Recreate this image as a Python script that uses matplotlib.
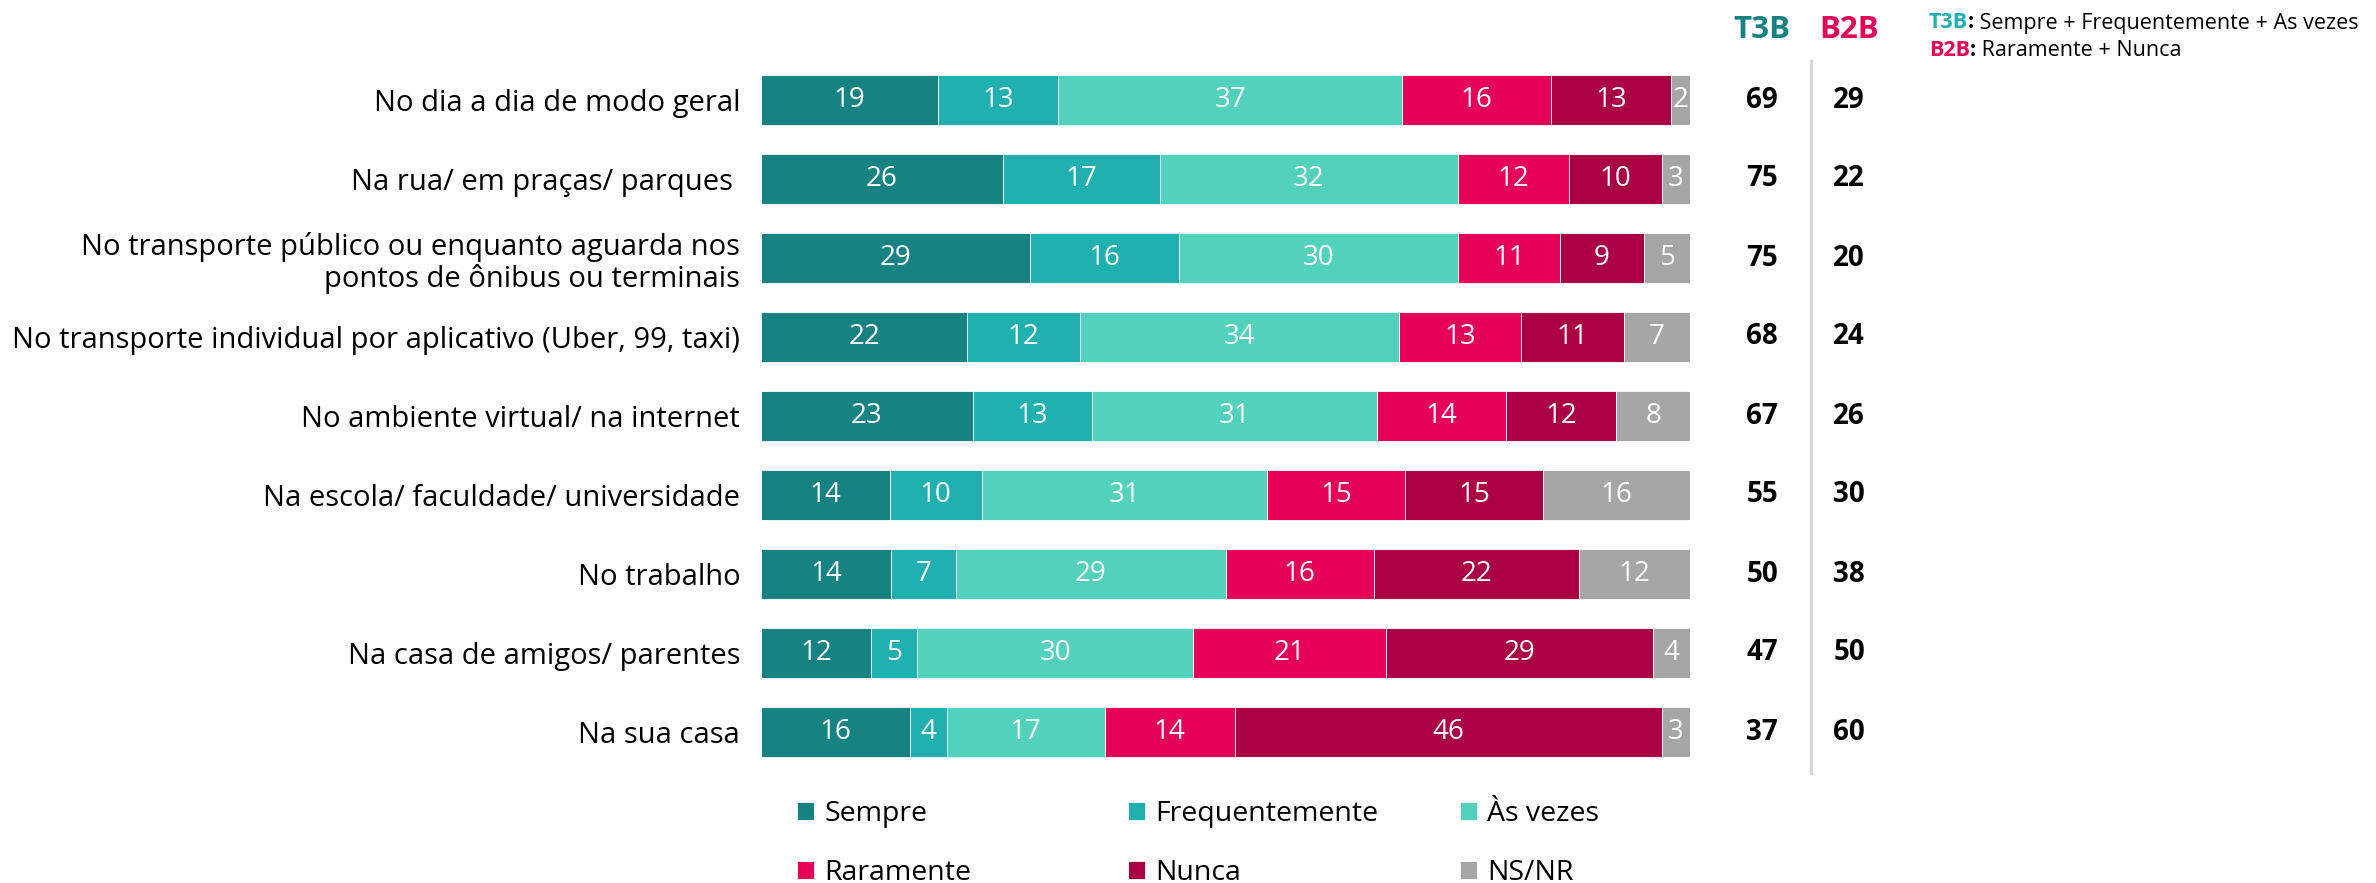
import matplotlib.pyplot as plt
import numpy as np

plt.rcParams['font.family'] = ['Open Sans', 'DejaVu Sans']

categories = [
    'No dia a dia de modo geral',
    'Na rua/ em praças/ parques ',
    'No transporte público ou enquanto aguarda nos\npontos de ônibus ou terminais',
    'No transporte individual por aplicativo (Uber, 99, taxi)',
    'No ambiente virtual/ na internet',
    'Na escola/ faculdade/ universidade',
    'No trabalho',
    'Na casa de amigos/ parentes',
    'Na sua casa',
]
series_names = ['Sempre', 'Frequentemente', 'Às vezes', 'Raramente', 'Nunca', 'NS/NR']
sempre = [19, 26, 29, 22, 23, 14, 14, 12, 16]
frequentemente = [13, 17, 16, 12, 13, 10, 7, 5, 4]
as_vezes = [37, 32, 30, 34, 31, 31, 29, 30, 17]
raramente = [16, 12, 11, 13, 14, 15, 16, 21, 14]
nunca = [13, 10, 9, 11, 12, 15, 22, 29, 46]
ns_nr = [2, 3, 5, 7, 8, 16, 12, 4, 3]
t3b = [69, 75, 75, 68, 67, 55, 50, 47, 37]
b2b = [29, 22, 20, 24, 26, 30, 38, 50, 60]

colors = ['#178282', '#20B0B0', '#52D1BC', '#E50058', '#AA0044', '#A6A6A6']
teal = '#178282'
pink = '#E50058'

W, H = 2376, 883
fig = plt.figure(figsize=(W / 100, H / 100), dpi=100)
bar_left, bar_right = 761, 1690
row0, step = 100, 79
ax = fig.add_axes([bar_left / W, 0, (bar_right - bar_left) / W, 1])
ax.set_xlim(0, 100)
ax.set_ylim((H - row0) / step, -row0 / step)

data = np.array([sempre, frequentemente, as_vezes, raramente, nunca, ns_nr], dtype=float)
shares = data / data.sum(axis=0) * 100  # 100% stacked
y = np.arange(len(categories))
left = np.zeros(len(categories))
for name, vals, share, col in zip(series_names, data, shares, colors):
    bars = ax.barh(y, share, left=left, height=50 / step, color=col,
                   edgecolor='white', linewidth=0.6, label=name)
    ax.bar_label(bars, labels=[f'{v:.0f}' for v in vals], label_type='center',
                 color='white', fontsize=20)
    left += share

ax.set_yticks(y)
ax.set_yticklabels(categories, fontsize=21, linespacing=1.12)
ax.tick_params(axis='y', length=0, pad=15)
ax.set_xticks([])
for s in ax.spines.values():
    s.set_visible(False)

def xd(px):
    return (px - bar_left) / (bar_right - bar_left) * 100

def yd(px):
    return (px - row0) / step

# T3B / B2B columns
ax.text(xd(1762), yd(30), 'T3B', color=teal, fontsize=22.5,
        fontweight='bold', ha='center', va='center', clip_on=False)
ax.text(xd(1849), yd(30), 'B2B', color=pink, fontsize=22.5,
        fontweight='bold', ha='center', va='center', clip_on=False)
for i in range(len(categories)):
    ax.text(xd(1762), i, str(t3b[i]), fontsize=20, fontweight='bold',
            ha='center', va='center', clip_on=False)
    ax.text(xd(1849), i, str(b2b[i]), fontsize=20, fontweight='bold',
            ha='center', va='center', clip_on=False)
ax.plot([xd(1811)] * 2, [yd(61), yd(773)], color='#D9D9D9', lw=2.5, clip_on=False)

# note
notes = [('T3B', '#20B0B0', ' Sempre + Frequentemente + As vezes', 23),
         ('B2B', pink, ' Raramente + Nunca', 50)]
for key, col, rest, py in notes:
    t1 = fig.text(1929 / W, 1 - py / H, key, color=col, fontsize=15.5,
                  fontweight='bold', va='center', ha='left')
    a1 = ax.annotate(':', xy=(1, 0), xycoords=t1, fontsize=15.5,
                     fontweight='bold', ha='left', va='bottom')
    ax.annotate(rest, xy=(1, 0), xycoords=a1, fontsize=15.5,
                ha='left', va='bottom')

# legend, three columns of two entries
handles, labels = ax.get_legend_handles_labels()
leg_x = [797, 1128, 1460]
for j in range(3):
    fig.legend([handles[j], handles[j + 3]], [labels[j], labels[j + 3]],
               loc='upper left', bbox_to_anchor=(leg_x[j] / W, 1 - 800 / H),
               frameon=False, fontsize=20.5, handlelength=0.6, handleheight=0.6,
               handletextpad=0.35, labelspacing=1.1, borderpad=0, borderaxespad=0)

fig.savefig('out.png', dpi=100)
